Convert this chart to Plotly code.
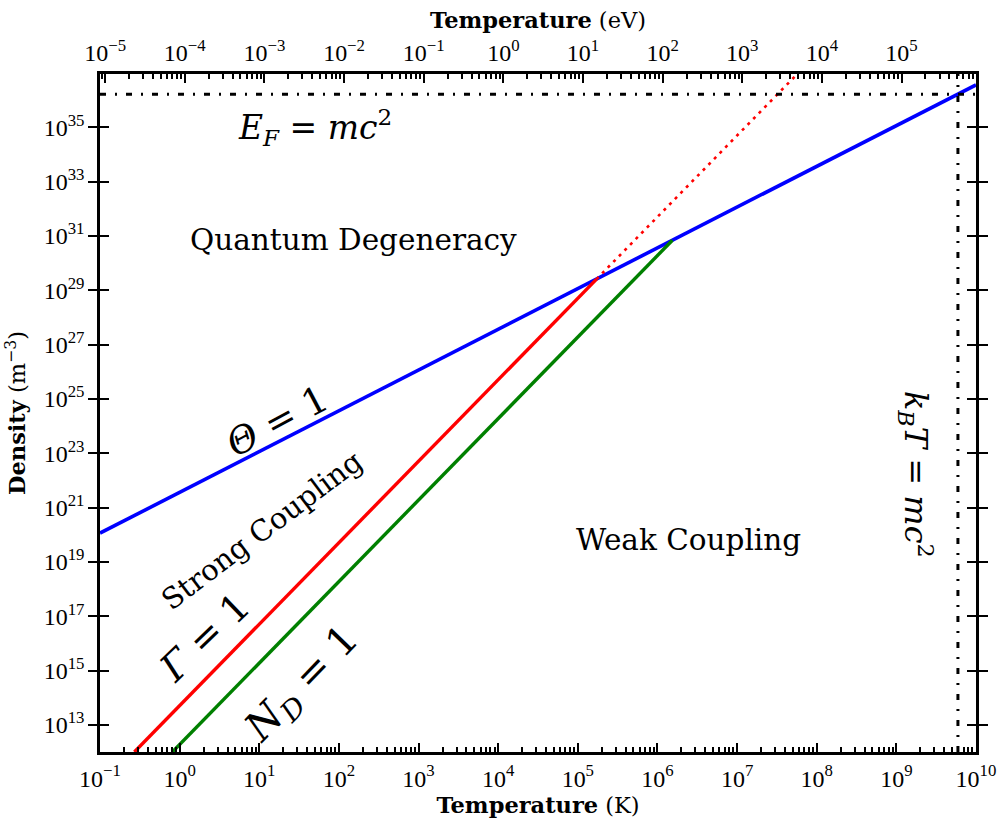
import numpy as np
import plotly.graph_objects as go

# Conversion between temperature units
K_PER_EV = 11604.5

# Axis limits: temperature (K) and electron density (m^-3)
T_RANGE = [1e-1, 1e10]
N_RANGE = [1e12, 9.3e36]

# Theta = 1 (onset of quantum degeneracy)
theta_T = [1e-1, 1e10]
theta_n = [1.15e20, 3.7e36]

# Gamma = 1 (coupling parameter), solid up to the degeneracy line, dotted beyond
gamma_T = [2.7e-1, 1.72e5]
gamma_n = [1e12, 2.6e29]
gamma_ext_T = [1.72e5, 5.7e7]
gamma_ext_n = [2.6e29, 9.3e36]

# N_D = 1 (particles per Debye sphere)
debye_T = [8.1e-1, 1.54e6]
debye_n = [1e12, 7.0e30]

# Relativistic limits
EF_MC2_DENSITY = 1.66e36   # E_F = m c^2
KT_MC2_TEMPERATURE = 5.93e9  # k_B T = m c^2

# Tick exponents
K_TICK_EXP = list(range(-1, 11))
EV_TICK_EXP = list(range(-5, 6))
N_TICK_EXP = list(range(13, 36, 2))


def pow_label(e):
    return "10<sup>" + str(e).replace("-", "\u2212") + "</sup>"


def minor_vals(lo, hi):
    vals = []
    for d in range(int(np.floor(np.log10(lo))) - 1, int(np.ceil(np.log10(hi))) + 1):
        for m in range(2, 10):
            v = m * 10.0 ** d
            if lo <= v <= hi:
                vals.append(v)
    return vals


EV_RANGE = [T_RANGE[0] / K_PER_EV, T_RANGE[1] / K_PER_EV]

TEXT_FONT = "DejaVu Serif"
TICK_FONT = dict(family="Liberation Serif", size=24, color="black")
TITLE_FONT = dict(family=TEXT_FONT, size=22.5, color="black")

fig = go.Figure()

fig.add_trace(go.Scatter(x=theta_T, y=theta_n, mode="lines",
                         line=dict(color="#0000ff", width=3.6), hoverinfo="skip"))
fig.add_trace(go.Scatter(x=gamma_T, y=gamma_n, mode="lines",
                         line=dict(color="#ff0000", width=3.4), hoverinfo="skip"))
fig.add_trace(go.Scatter(x=gamma_ext_T, y=gamma_ext_n, mode="lines",
                         line=dict(color="#ff0000", width=2.6, dash="3px,5px"),
                         hoverinfo="skip"))
fig.add_trace(go.Scatter(x=debye_T, y=debye_n, mode="lines",
                         line=dict(color="#008000", width=3.4), hoverinfo="skip"))

# E_F = mc^2 and k_B T = mc^2 boundaries
fig.add_trace(go.Scatter(x=T_RANGE, y=[EF_MC2_DENSITY, EF_MC2_DENSITY], mode="lines",
                         line=dict(color="black", width=3, dash="6px,9px,2px,9px"),
                         hoverinfo="skip"))
fig.add_trace(go.Scatter(x=[KT_MC2_TEMPERATURE, KT_MC2_TEMPERATURE], y=N_RANGE, mode="lines",
                         line=dict(color="black", width=3, dash="6px,9px,2px,9px"),
                         hoverinfo="skip"))

# Invisible trace carrying the eV axis
fig.add_trace(go.Scatter(x=EV_RANGE, y=N_RANGE, xaxis="x2", mode="lines",
                         line=dict(width=0), opacity=0, hoverinfo="skip"))

axis_common = dict(showgrid=False, zeroline=False, showline=True, linecolor="black",
                   linewidth=2.5, ticks="inside", ticklen=9, tickwidth=2,
                   tickcolor="black", tickfont=TICK_FONT, automargin=False,
                   tickmode="array", layer="above traces")

minor_common = dict(ticks="inside", ticklen=5, tickwidth=1.5, tickcolor="black",
                    tickmode="array", showgrid=False)

fig.update_layout(
    width=997, height=823,
    margin=dict(l=100, r=21, t=74, b=71),
    paper_bgcolor="white", plot_bgcolor="white",
    showlegend=False,
    font=dict(family=TEXT_FONT, color="black"),
    xaxis=dict(
        type="log", range=[np.log10(T_RANGE[0]), np.log10(T_RANGE[1])], mirror=True,
        tickvals=[10.0 ** e for e in K_TICK_EXP],
        ticktext=[pow_label(e) for e in K_TICK_EXP],
        ticklabelstandoff=3,
        minor=dict(tickvals=minor_vals(*T_RANGE), **minor_common),
        title=dict(text="<b>Temperature</b> (K)", font=TITLE_FONT, standoff=1),
        **axis_common,
    ),
    xaxis2=dict(
        type="log", overlaying="x", side="top", anchor="y",
        range=[np.log10(EV_RANGE[0]), np.log10(EV_RANGE[1])],
        tickvals=[10.0 ** e for e in EV_TICK_EXP],
        ticktext=[pow_label(e) for e in EV_TICK_EXP],
        ticklabelstandoff=1,
        minor=dict(tickvals=minor_vals(*EV_RANGE), **minor_common),
        title=dict(text="<b>Temperature</b> (eV)", font=TITLE_FONT, standoff=1),
        **axis_common,
    ),
    yaxis=dict(
        type="log", range=[np.log10(N_RANGE[0]), np.log10(N_RANGE[1])], mirror="allticks",
        tickvals=[10.0 ** e for e in N_TICK_EXP],
        ticktext=[pow_label(e) for e in N_TICK_EXP],
        ticklabelstandoff=8,
        title=dict(text="<b>Density</b> (m<sup>\u22123</sup>)", font=TITLE_FONT, standoff=12),
        **axis_common,
    ),
)

# Region and boundary labels (positions in log10 data units)
labels = [
    ("Quantum Degeneracy", 2.18, 30.86, 0, 29.5),
    ("Weak Coupling", 6.39, 19.80, 0, 29.5),
    ("Strong Coupling", 1.04, 20.16, -37, 29),
    ("<i>\u0398</i> = 1", 1.22, 24.18, -28, 37),
    ("<i>\u0393</i> = 1", 0.32, 16.22, -44, 38),
    ("<i>N</i><sub><i>D</i></sub> = 1", 1.55, 14.45, -46, 40),
    ("<i>E</i><sub><i>F</i></sub> = <i>mc</i><sup>2</sup>", 1.70, 34.99, 0, 33),
    ("<i>k</i><sub><i>B</i></sub><i>T</i> = <i>mc</i><sup>2</sup>", 9.25, 22.23, 90, 32),
]
for text, lx, ly, ang, size in labels:
    fig.add_annotation(x=lx, y=ly, xref="x", yref="y", text=text, showarrow=False,
                       textangle=ang, font=dict(family=TEXT_FONT, size=size, color="black"),
                       xanchor="center", yanchor="middle")

fig.write_html("out.html")
